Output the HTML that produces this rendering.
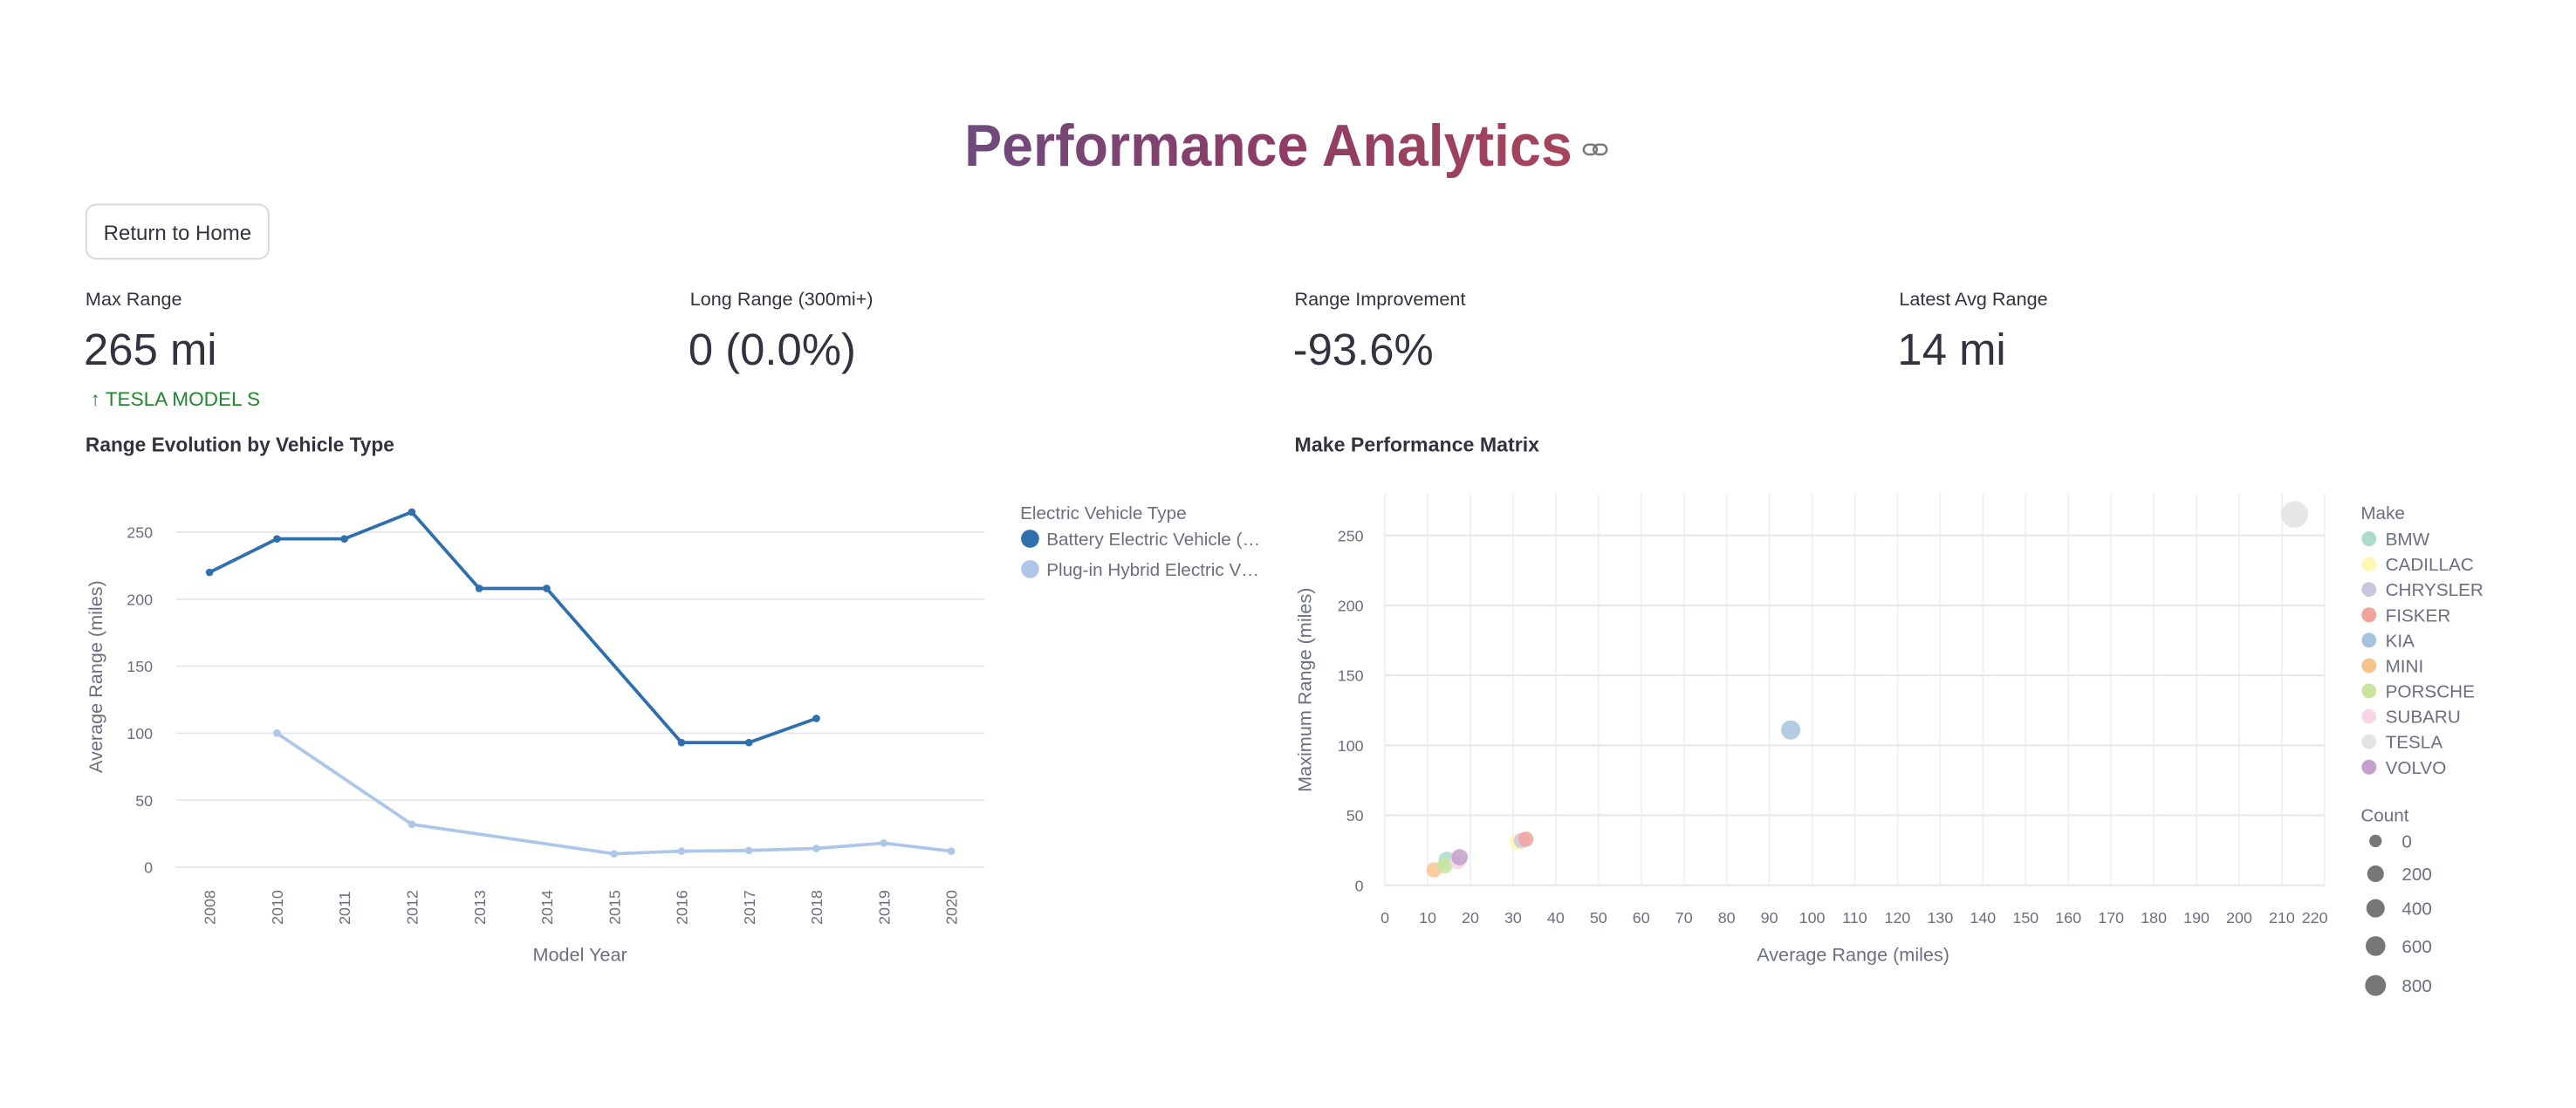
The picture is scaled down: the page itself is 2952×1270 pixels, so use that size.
<!DOCTYPE html>
<html><head><meta charset="utf-8">
<style>
html,body{margin:0;padding:0;background:#fff;width:2952px;height:1270px;overflow:hidden;}
svg{display:block;font-family:"Liberation Sans",sans-serif;}
.tick{fill:#6b6f80;font-size:9.5px;}
.ttl{fill:#6b6f80;font-size:11.5px;}
.leg{fill:#6b6f80;font-size:11px;}
</style></head>
<body>
<svg id="page" width="2952" height="1270" viewBox="0 0 1568 674.6">
<defs>
<linearGradient id="tg" x1="0" x2="1"><stop offset="0" stop-color="#6e4a7e"/><stop offset="0.5" stop-color="#8c3d66"/><stop offset="1" stop-color="#a6455a"/></linearGradient>
</defs>
<text x="587" y="101" textLength="370" lengthAdjust="spacingAndGlyphs" font-size="36" font-weight="bold" fill="url(#tg)">Performance Analytics</text>
<g fill="none" stroke="#777" stroke-width="1.3"><rect x="964" y="88" width="8" height="6" rx="3"/><rect x="970" y="88" width="8" height="6" rx="3"/></g>
<g>
<rect x="52.5" y="124.5" width="111" height="33" rx="6" fill="#fff" stroke="#d6d6dc"/>
<text x="108" y="146" text-anchor="middle" font-size="13" textLength="90" lengthAdjust="spacingAndGlyphs" fill="#31333f">Return to Home</text></g>

<g fill="#31333f">
<text x="52" y="186" font-size="11.5">Max Range</text>
<text x="51" y="222" font-size="27">265 mi</text>
<text x="55" y="247" font-size="12" fill="#21862f">↑ TESLA MODEL S</text>
<text x="420" y="186" font-size="11.5">Long Range (300mi+)</text>
<text x="419" y="222" font-size="27">0 (0.0%)</text>
<text x="788" y="186" font-size="11.5">Range Improvement</text>
<text x="787" y="222" font-size="27">-93.6%</text>
<text x="1156" y="186" font-size="11.5">Latest Avg Range</text>
<text x="1155" y="222" font-size="27">14 mi</text>
<text x="52" y="275" font-size="12.5" font-weight="bold" textLength="188" lengthAdjust="spacingAndGlyphs">Range Evolution by Vehicle Type</text>
<text x="788" y="275" font-size="12.5" font-weight="bold" textLength="149" lengthAdjust="spacingAndGlyphs">Make Performance Matrix</text>
</g>
<g id="lineChart"></g>
<g id="scatterChart"></g>
</svg>
<script>
const years = ["2008","2010","2011","2012","2013","2014","2015","2016","2017","2018","2019","2020"];
const bevYears = ["2008","2010","2011","2012","2013","2014","2016","2017","2018"];
const bevValues = [220,245,245,265,208,208,93,93,111];
const phevYears = ["2010","2012","2015","2016","2017","2018","2019","2020"];
const phevValues = [100,32,10,12,12.5,14,18,12];
const lineYTicks = [0,50,100,150,200,250];

const makes = ["BMW","CADILLAC","CHRYSLER","FISKER","KIA","MINI","PORSCHE","SUBARU","TESLA","VOLVO"];
const makeColors = ["#a9dccd","#fdf8b4","#cbc6e0","#f0a29b","#a6c3dd","#f8c48e","#c9e49d","#f8d6e6","#e3e3e3","#c3a0cb"];
const avgRange = [14.5,31,32,33,95,11.5,14,17,213,17.5];
const maxRange = [18,31,32,33,111,11,14,17,265,20];
const counts = [60,40,30,20,180,20,30,30,900,50];
const scatterXTicks = [0,10,20,30,40,50,60,70,80,90,100,110,120,130,140,150,160,170,180,190,200,210,220];
const scatterYTicks = [0,50,100,150,200,250];
const sizeLegend = [0,200,400,600,800];

const NS="http://www.w3.org/2000/svg";
function mk(tag,attrs,parent,txt){const e=document.createElementNS(NS,tag);for(const k in attrs)e.setAttribute(k,attrs[k]);if(txt!==undefined)e.textContent=txt;parent.appendChild(e);return e;}

const L=document.getElementById('lineChart');
const lx0=107,lx1=599.5,band=(lx1-lx0)/years.length;
const lxs=y=>lx0+band*(years.indexOf(y)+0.5);
const lys=v=>528-v*(528-324)/250;
lineYTicks.forEach(t=>{
 const g=mk('line',{x1:lx0,x2:lx1,y1:lys(t),y2:lys(t),stroke:'#e6e8ef','stroke-width':1},L);
 
 
 const tx=mk('text',{x:93,y:lys(t)+3.5,'text-anchor':'end',class:'tick'},L,t);
 
 
});
years.forEach(y=>{
 const tx=mk('text',{x:0,y:0,transform:`translate(${lxs(y)+3.5},563) rotate(-90)`,class:'tick','font-size':'8.5'},L,y);
 
 
});
let t1=mk('text',{x:0,y:0,transform:'translate(62,412) rotate(-90)','text-anchor':'middle',class:'ttl','font-size':'10.5'},L,'Average Range (miles)');


let t2=mk('text',{x:353,y:585,'text-anchor':'middle',class:'ttl'},L,'Model Year');


function series(ys,vs,color,name){
 const p=mk('polyline',{points:ys.map((y,i)=>lxs(y)+','+lys(vs[i])).join(' '),fill:'none',stroke:color,'stroke-width':2},L);
 
 
 ys.forEach((y,i)=>{const c=mk('circle',{cx:lxs(y),cy:lys(vs[i]),r:2.3,fill:color},L);
  
  });
}
series(phevYears,phevValues,'#aec7e8','phev');
series(bevYears,bevValues,'#2f6fae','bev');
let lg=mk('text',{x:621,y:316,class:'leg'},L,'Electric Vehicle Type');


[['Battery Electric Vehicle (…','#2f6fae'],['Plug-in Hybrid Electric V…','#aec7e8']].forEach((e,i)=>{
 const c=mk('circle',{cx:627,cy:328+i*18.5,r:5.5,fill:e[1]},L);
 
 
 const t=mk('text',{x:637,y:332+i*18.5,class:'leg'},L,e[0]);
 
 
});

const S=document.getElementById('scatterChart');
const sx0=843,sx1=1415,sy0=539,syTop=300.5;
const sxs=v=>sx0+(v/220)*(sx1-sx0);
const sys=v=>sy0-v*(sy0-326)/250;
const rs=c=>4+Math.sqrt(c)*0.14;
scatterXTicks.forEach(t=>{
 const g=mk('line',{x1:sxs(t),x2:sxs(t),y1:syTop,y2:sy0,stroke:'#eef0f4','stroke-width':1},S);
 
 
 const tx=mk('text',{x:sxs(t)-(t===220?6:0),y:562,'text-anchor':'middle',class:'tick','font-size':'9'},S,t);
 
 
});
scatterYTicks.forEach(t=>{
 const g=mk('line',{x1:sx0,x2:sx1,y1:sys(t),y2:sys(t),stroke:'#e6e8ef','stroke-width':1.2},S);
 
 
 const tx=mk('text',{x:830,y:sys(t)+3.5,'text-anchor':'end',class:'tick'},S,t);
 
 
});
let t3=mk('text',{x:0,y:0,transform:'translate(798,420) rotate(-90)','text-anchor':'middle',class:'ttl','font-size':'10.5'},S,'Maximum Range (miles)');


let t4=mk('text',{x:1128,y:585,'text-anchor':'middle',class:'ttl'},S,'Average Range (miles)');


makes.forEach((m,i)=>{
 const c=mk('circle',{cx:sxs(avgRange[i]),cy:sys(maxRange[i]),r:rs(counts[i]),fill:makeColors[i],'fill-opacity':0.85},S);
 
 
});
let mt=mk('text',{x:1437,y:316,class:'leg'},S,'Make');


makes.forEach((m,i)=>{
 const c=mk('circle',{cx:1442,cy:328+i*15.45,r:4.5,fill:makeColors[i]},S);
 
 
 const t=mk('text',{x:1452,y:332+i*15.45,class:'leg','font-size':'10.5'},S,m);
 
 
});
let ct=mk('text',{x:1437,y:500,class:'leg'},S,'Count');


const sizeY=[512,532,553,576,600];
sizeLegend.forEach((v,i)=>{
 const c=mk('circle',{cx:1446,cy:sizeY[i],r:3.8+Math.sqrt(v)*0.09,fill:'#777'},S);
 
 
 const t=mk('text',{x:1462,y:sizeY[i]+4,class:'leg','font-size':'10.5'},S,v);
 
 
});
</script>
</body></html>
